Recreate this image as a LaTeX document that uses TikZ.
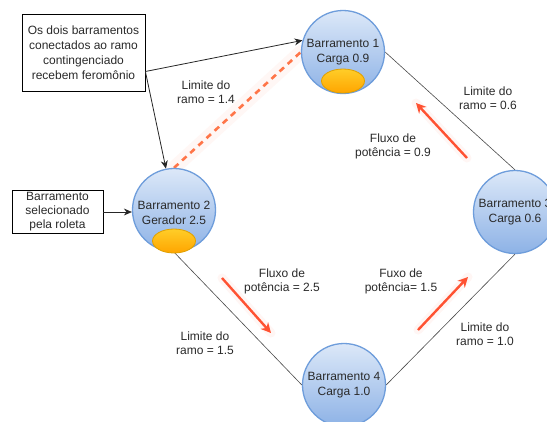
\documentclass[tikz,border=0pt]{standalone}
\usepackage{fontspec}
\setmainfont{Liberation Sans}
\usetikzlibrary{arrows.meta,shapes.geometric,backgrounds}
\definecolor{busfilltop}{HTML}{DCE8F8}
\definecolor{busfillbot}{HTML}{8DB2E6}
\definecolor{busline}{HTML}{6E9DDB}
\definecolor{pherotop}{HTML}{FFCD28}
\definecolor{pherobot}{HTML}{FFA500}
\definecolor{pheroline}{HTML}{E0A000}
\definecolor{flowred}{HTML}{FF5232}
\definecolor{dashorange}{HTML}{FF7548}
\definecolor{txt}{HTML}{2A2A2A}
\definecolor{branch}{HTML}{4A4A4A}
\tikzset{
  bus/.style={circle, minimum size=83pt, inner sep=0pt, draw=busline, line width=1.3pt,
    top color=busfilltop, bottom color=busfillbot},
  bustext/.style={text=txt, align=center, inner sep=0pt, font=\fontsize{12}{15}\selectfont},
  phero/.style={ellipse, minimum width=43pt, minimum height=24pt, inner sep=0pt,
    draw=pheroline, line width=0.8pt, top color=pherotop, bottom color=pherobot},
  notebox/.style={rectangle, draw=black, line width=0.8pt, fill=white, text=txt,
    align=center, inner sep=2pt, font=\fontsize{12}{15}\selectfont},
  lbl/.style={text=txt, align=center, inner sep=0pt, font=\fontsize{12}{14}\selectfont},
  branchline/.style={draw=branch, line width=0.6pt},
  pointer/.style={draw=black!85, line width=0.8pt, -{Stealth[length=8pt,width=7pt]}},
  flow/.style={draw=flowred, line width=2.4pt, -{Stealth[length=10pt,width=10pt]}},
  flowglow/.style={draw=flowred, line width=9pt, opacity=0.05, line cap=round},
  contingency/.style={draw=dashorange, line width=2.6pt, dash pattern=on 6pt off 5pt},
  contglow/.style={draw=dashorange, line width=14pt, opacity=0.05, line cap=round},
}
\begin{document}
\begin{tikzpicture}[x=1pt, y=-1pt]
  \useasboundingbox (0,0) rectangle (547,421);
  \clip (0,0) rectangle (547,421);

  % bus circles
  \node[bus] (bus1) at (343,52) {};
  \node[bus] (bus2) at (174,210) {};
  \node[bus] (bus3) at (515,212) {};
  \node[bus] (bus4) at (344,385) {};

  % page background and network branches, kept behind the circles
  \begin{scope}[on background layer]
    \fill[white] (0,0) rectangle (547,421);
    \draw[branchline] (bus1.east) -- (bus3.north);
    \draw[branchline] (bus2.south) -- (bus4.west);
    \draw[branchline] (bus4.east) -- (bus3.south);
    % contingency branch between buses 1 and 2
    \draw[contglow] (bus2.north) -- (bus1.west);
    \draw[contingency] (bus2.north) -- (bus1.west);
  \end{scope}

  % pheromone marks
  \node[phero] (ph1) at (343,81) {};
  \node[phero] (ph2) at (174,241) {};

  % bus captions
  \node[bustext] (t1) at (343,52.5) {Barramento 1\\Carga 0.9};
  \node[bustext] (t2) at (174,213) {Barramento 2\\Gerador 2.5};
  \node[bustext] (t3) at (515,212.5) {Barramento 3\\Carga 0.6};
  \node[bustext] (t4) at (344,385.5) {Barramento 4\\Carga 1.0};

  % annotation boxes
  \node[notebox, minimum width=123pt, minimum height=77pt] (box1) at (83.5,52.5)
    {Os dois barramentos\\conectados ao ramo\\contingenciado\\recebem feromônio};
  \node[notebox, minimum width=91pt, minimum height=42pt, font=\fontsize{12}{14}\selectfont] (box2) at (57.5,212)
    {Barramento\\selecionado\\pela roleta};

  \draw[pointer] ([yshift=-19pt]box1.east) -- (bus1.164);
  \draw[pointer] ([yshift=-19pt]box1.east) -- (bus2.101);
  \draw[pointer] (box2.east) -- (box2.east -| bus2.west);

  % power flow arrows
  \coordinate (f1a) at (467,158); \coordinate (f1b) at (416,103);
  \coordinate (f2a) at (222,278); \coordinate (f2b) at (271,333);
  \coordinate (f3a) at (418,330); \coordinate (f3b) at (468,277);
  \foreach \s/\e in {f1a/f1b, f2a/f2b, f3a/f3b} {
    \draw[flowglow] (\s) -- (\e);
  }
  \draw[flow] (f1a) -- (f1b);
  \draw[flow] (f2a) -- (f2b);
  \draw[flow] (f3a) -- (f3b);

  % branch and flow labels
  \node[lbl] (l12) at (206,92.5) {Limite do\\ramo = 1.4};
  \node[lbl] (l13) at (488,98) {Limite do\\ramo = 0.6};
  \node[lbl] (fl13) at (393,146) {Fluxo de\\potência = 0.9};
  \node[lbl] (fl24) at (282,281) {Fluxo de\\potência = 2.5};
  \node[lbl] (fl43) at (401,281) {Fuxo de\\potência= 1.5};
  \node[lbl] (l24) at (205,343.5) {Limite do\\ramo = 1.5};
  \node[lbl] (l43) at (485,334.5) {Limite do\\ramo = 1.0};
\end{tikzpicture}
\end{document}
